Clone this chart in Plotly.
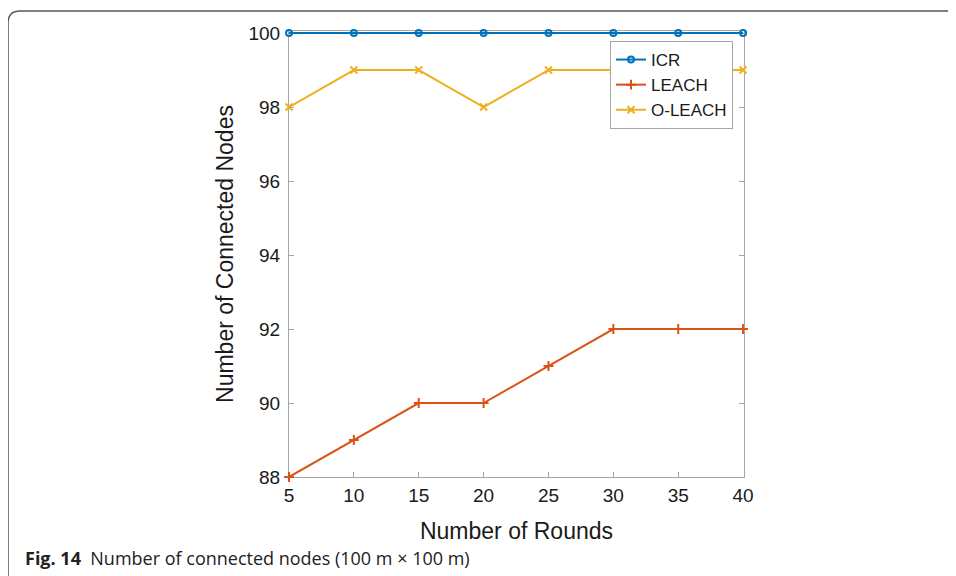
import plotly.graph_objects as go

rounds = [5, 10, 15, 20, 25, 30, 35, 40]
icr = [100, 100, 100, 100, 100, 100, 100, 100]
leach = [88, 89, 90, 90, 91, 92, 92, 92]
oleach = [98, 99, 99, 98, 99, 99, 99, 99]
y_ticks = [88, 90, 92, 94, 96, 98, 100]

OFF = 8  # page body margin
W, H = 956 - OFF, 576 - OFF
L, T = 289 - OFF, 31 - OFF
R, B = W - (744 - OFF), H - (477 - OFF)

FONT = "Liberation Sans, Arial"

fig = go.Figure()
fig.add_trace(go.Scatter(x=rounds, y=icr, name="ICR", mode="lines+markers",
                         line=dict(color="#0072BD", width=2),
                         marker=dict(symbol="circle-open", size=6, color="#0072BD", line=dict(width=2)),
                         cliponaxis=False))
fig.add_trace(go.Scatter(x=rounds, y=leach, name="LEACH", mode="lines+markers",
                         line=dict(color="#D95319", width=2),
                         marker=dict(symbol="cross-thin", size=7, color="#D95319", line=dict(width=2, color="#D95319")),
                         cliponaxis=False))
fig.add_trace(go.Scatter(x=rounds, y=oleach, name="O-LEACH", mode="lines+markers",
                         line=dict(color="#EDB120", width=2),
                         marker=dict(symbol="x-thin", size=7, color="#EDB120", line=dict(width=2, color="#EDB120")),
                         cliponaxis=False))

axis_common = dict(showgrid=False, zeroline=False, showline=True, linecolor="#a6a6a6", linewidth=1,
                   mirror="ticks", ticks="inside", ticklen=5, tickcolor="#a6a6a6", layer="below traces",
                   tickfont=dict(family=FONT, size=19, color="#1a1a1a"))

fig.update_xaxes(range=[5, 40.07], tickvals=rounds, **axis_common, ticklabelstandoff=1,
                 title=dict(text="Number of Rounds", font=dict(family=FONT, size=23, color="#1a1a1a"), standoff=18))
fig.update_yaxes(range=[88, 100.055], tickvals=y_ticks, **axis_common, ticklabelstandoff=4,
                 title=dict(text="Number of Connected Nodes", font=dict(family=FONT, size=23, color="#1a1a1a"), standoff=8))

pw, ph = W - L - R, H - T - B
def px(xp):
    return (xp - OFF - L) / pw
def py(yp):
    return (H - B - (yp - OFF)) / ph

# rounded frame
x0, y0 = px(8), py(11)
x1, y1 = px(980), py(600)
rx, ry = 12 / pw, 12 / ph
path = (f"M {x0},{y1} L {x0},{y0 - ry} Q {x0},{y0} {x0 + rx},{y0} L {x1},{y0}")
fig.add_shape(type="path", path=path, xref="paper", yref="paper",
              line=dict(color="#555555", width=1.5), layer="below")

fig.add_annotation(x=px(23), y=py(558), xref="paper", yref="paper", xanchor="left", yanchor="middle",
                   showarrow=False,
                   text="<b>Fig. 14</b>  Number of connected nodes (100 m × 100 m)",
                   font=dict(family="Open Sans, Noto Sans", size=18, color="#222222"))

fig.update_layout(
    width=W, height=H, margin=dict(l=L, r=R, t=T, b=B),
    paper_bgcolor="white", plot_bgcolor="white",
    showlegend=True,
    legend=dict(x=px(733), y=py(41), xanchor="right", yanchor="top",
                bgcolor="white", bordercolor="#a6a6a6", borderwidth=1,
                font=dict(family=FONT, size=17, color="#1a1a1a"),
                tracegroupgap=0, itemwidth=30),
)

fig.write_html("out.html")
